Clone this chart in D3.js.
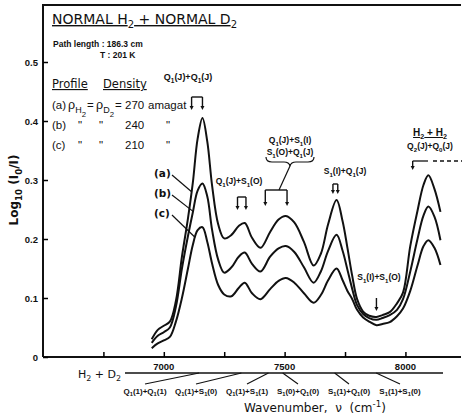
<!DOCTYPE html>
<html>
<head>
<meta charset="utf-8">
<script src="https://cdn.jsdelivr.net/npm/d3@7"></script>
<style>
body { margin: 0; background: #fff; }
svg text { font-family: "DejaVu Sans", sans-serif; fill: #111; white-space: pre; }
.small { font-family: "Liberation Sans", Arial, sans-serif; font-weight: bold; }
.lib { font-family: "Liberation Sans", Arial, sans-serif; }
</style>
</head>
<body>
<div id="chart"></div>
<script>
// sampled wavenumbers, cm^-1
var wavenumber = [6950, 6975, 7000, 7025, 7050, 7075, 7100, 7120, 7140, 7160, 7180, 7200, 7225, 7250,
    7280, 7310, 7335, 7365, 7400, 7440, 7475, 7505, 7540, 7580, 7620, 7650, 7680, 7715, 7740, 7760,
    7780, 7800, 7825, 7850, 7880, 7905, 7935, 7965, 7990, 8020, 8050, 8075, 8095, 8120, 8145];

// log10(I0/I) for the three densities
var profileA = [.030, .046, .053, .060, .095, .170, .235, .295, .370, .405, .365, .290, .225, .201,
    .207, .222, .227, .202, .185, .212, .233, .239, .228, .195, .155, .175, .225, .266, .230, .185,
    .137, .098, .077, .070, .068, .071, .076, .091, .109, .188, .248, .292, .308, .285, .246];
var profileB = [.024, .036, .042, .050, .085, .150, .205, .245, .282, .294, .272, .215, .165, .143,
    .152, .170, .177, .158, .145, .170, .184, .188, .178, .152, .126, .145, .180, .207, .180, .148,
    .115, .088, .073, .066, .063, .066, .071, .080, .098, .145, .200, .240, .255, .238, .198];
var profileC = [.015, .023, .028, .034, .060, .100, .150, .190, .215, .220, .195, .158, .122, .106,
    .103, .117, .126, .108, .098, .115, .129, .134, .126, .108, .092, .105, .130, .150, .130, .112,
    .098, .080, .067, .060, .054, .056, .059, .069, .082, .112, .155, .188, .198, .185, .156];

var profileNames = ["(a)", "(b)", "(c)"];
var densities = ["270", "240", "210"];

var xTicks = [6750, 7000, 7250, 7500, 7750, 8000];
var xTickLabels = ["", "7000", "", "7500", "", "8000"];
var yTicks = [0, 0.1, 0.2, 0.3, 0.4, 0.5];
var yTickLabels = ["0", "0.1", "0.2", "0.3", "0.4", "0.5"];

// H2 + D2 double transitions and where they fall
var pairNames = ["Q_1(1)+Q_1(1)", "Q_1(1)+S_1(0)", "Q_1(1)+S_1(1)", "S_1(0)+Q_1(0)", "S_1(1)+Q_1(0)", "S_1(1)+S_1(0)"];
var pairWavenumbers = [7146, 7321, 7433, 7492, 7707, 7879];

var W = 463, H = 415;
var svg = d3.select('#chart').append('svg').attr('width', W).attr('height', H);

var x = d3.scaleLinear().domain([6500, 8230]).range([43, 461]);
var y = d3.scaleLinear().domain([0, 0.5]).range([357, 62]);

// text with _sub, __subsub and ^sup pieces
function rich(t, str) {
    var size = +t.attr('font-size');
    var re = /(_{1,2}|\^)(\{[^}]*\}|[^{])|([^_^]+)/g, m, shift = 0;
    while ((m = re.exec(str)) !== null) {
        var span = t.append('tspan'), target = 0, txt = m[3];
        if (!m[3]) {
            txt = m[2].replace(/[{}]/g, '');
            if (m[1] === '_') { target = size * 0.3; span.attr('font-size', size * 0.72); }
            else if (m[1] === '__') { target = size * 0.6; span.attr('font-size', size * 0.62); }
            else { target = -size * 0.45; span.attr('font-size', size * 0.72); }
        } else if (t.classed('ul')) {
            span.style('text-decoration', 'underline');
        }
        span.attr('dy', target - shift).text(txt);
        shift = target;
    }
    return t;
}

function label(xp, yp, str, size, opts) {
    opts = opts || {};
    var t = svg.append('text').attr('x', xp).attr('y', yp).attr('font-size', size)
        .attr('text-anchor', opts.anchor || 'start')
        .classed('small', !!opts.small).classed('lib', !!opts.lib).classed('ul', !!opts.ul);
    if (opts.weight) t.attr('font-weight', opts.weight);
    return rich(t, str);
}

function arrowDown(xp, y1, y2) {
    svg.append('line').attr('x1', xp).attr('x2', xp).attr('y1', y1).attr('y2', y2 - 3)
        .attr('stroke', '#111').attr('stroke-width', 1.4);
    svg.append('path').attr('d', 'M' + (xp - 2) + ',' + (y2 - 4) + 'L' + (xp + 2) + ',' + (y2 - 4) + 'L' + xp + ',' + y2 + 'Z')
        .attr('fill', '#111');
}

// two arrows joined by a bar
function bracket(w1, w2, yTop, yTip) {
    svg.append('path').attr('d', 'M' + x(w1) + ',' + yTop + 'L' + x(w2) + ',' + yTop)
        .attr('stroke', '#111').attr('stroke-width', 1.4).attr('fill', 'none');
    arrowDown(x(w1), yTop, yTip);
    arrowDown(x(w2), yTop, yTip);
}

function valueAt(series, wn) {
    var i = d3.bisectLeft(wavenumber, wn);
    var t = (wn - wavenumber[i - 1]) / (wavenumber[i] - wavenumber[i - 1]);
    return series[i - 1] + t * (series[i] - series[i - 1]);
}

// frame
svg.append('path').attr('d', 'M43,357V5H461').attr('fill', 'none').attr('stroke', '#111').attr('stroke-width', 2);
svg.append('line').attr('x1', 43).attr('x2', 461).attr('y1', 357).attr('y2', 357)
    .attr('stroke', '#111').attr('stroke-width', 2);

// inward ticks
var yAxis = d3.axisRight(y).tickValues(yTicks).tickSize(5).tickFormat('');
svg.append('g').attr('transform', 'translate(43,0)').call(yAxis)
    .call(function (g) { g.select('.domain').remove(); g.selectAll('line').attr('stroke-width', 1.5); });
var xAxis = d3.axisTop(x).tickValues(xTicks).tickSize(5).tickFormat('');
svg.append('g').attr('transform', 'translate(0,357)').call(xAxis)
    .call(function (g) { g.select('.domain').remove(); g.selectAll('line').attr('stroke-width', 1.5); });

yTicks.forEach(function (v, i) {
    label(38, y(v) + 3.5, yTickLabels[i], 9.5, {anchor: 'end', small: true});
});
xTicks.forEach(function (v, i) {
    if (xTickLabels[i]) label(x(v), 370, xTickLabels[i], 9.5, {anchor: 'middle', small: true});
});

// profiles
var line = d3.line().x(function (d) { return x(d[0]); }).y(function (d) { return y(d[1]); })
    .curve(d3.curveCatmullRom.alpha(0.5));
[profileA, profileB, profileC].forEach(function (s) {
    svg.append('path').datum(d3.zip(wavenumber, s)).attr('d', line)
        .attr('fill', 'none').attr('stroke', '#111').attr('stroke-width', 2);
});

// curve keys with leaders
var leaderWn = [7115, 7121, 7130];
[profileA, profileB, profileC].forEach(function (s, i) {
    var ly = 177 + i * 20;
    label(154, ly, profileNames[i], 10.5, {weight: 'bold'});
    svg.append('line').attr('x1', 172).attr('y1', ly - 2)
        .attr('x2', x(leaderWn[i])).attr('y2', y(valueAt(s, leaderWn[i])))
        .attr('stroke', '#111').attr('stroke-width', 1.2);
});

// header block
label(52, 24, 'NORMAL H_2 + NORMAL D_2', 14, {ul: true});
label(53, 47, 'Path length : 186.3 cm', 8.5, {small: true});
label(100, 58, 'T : 201 K', 8.5, {small: true});
label(52, 88, 'Profile', 11.5, {ul: true});
label(103, 88, 'Density', 11.5, {ul: true});

var rowSize = 11.5;
label(52, 109, profileNames[0], rowSize, {lib: true});
label(68, 109, 'ρ_{H}__2', 12.5, {lib: true});
label(87, 109, '=', rowSize, {lib: true});
label(96, 109, 'ρ_{D}__2', 12.5, {lib: true});
label(115, 109, '=', rowSize, {lib: true});
label(125, 109, densities[0], rowSize, {lib: true});
label(148, 109, 'amagat', rowSize, {lib: true});
[1, 2].forEach(function (i) {
    var by = 109 + i * 20;
    label(52, by, profileNames[i], rowSize, {lib: true});
    label(80, by, '"', rowSize, {anchor: 'middle', lib: true});
    label(101, by, '"', rowSize, {anchor: 'middle', lib: true});
    label(125, by, densities[i], rowSize, {lib: true});
    label(168, by, '"', rowSize, {anchor: 'middle', lib: true});
});

// band assignments
label(188, 80, 'Q_1(J)+Q_1(J)', 9, {anchor: 'middle', small: true});
bracket(7115, 7160, 97, 110);

label(239, 184, 'Q_1(J)+S_1(O)', 8.5, {anchor: 'middle', small: true});
bracket(7305, 7340, 197, 210);

label(290, 143, 'Q_1(J)+S_1(I)', 8.5, {anchor: 'middle', small: true});
label(290, 155, 'S_1(O)+Q_1(J)', 8.5, {anchor: 'middle', small: true});
svg.append('path').attr('d', 'M266,157Q266,162 272,162L284,162Q289,162 290,166Q291,162 296,162L308,162Q314,162 314,157')
    .attr('fill', 'none').attr('stroke', '#111').attr('stroke-width', 1.2);
svg.append('line').attr('x1', 290).attr('y1', 166).attr('x2', 279).attr('y2', 190)
    .attr('stroke', '#111').attr('stroke-width', 1.2);
bracket(7420, 7510, 190, 206);

label(345, 174, 'S_1(I)+Q_1(J)', 8.5, {anchor: 'middle', small: true});
bracket(7700, 7720, 184, 194);

label(430, 136, 'H_2 + H_2', 10, {anchor: 'middle', small: true, ul: true});
label(430, 149, 'Q_2(J)+Q_0(J)', 8.5, {anchor: 'middle', small: true});
svg.append('line').attr('x1', x(8030)).attr('x2', 428).attr('y1', 161).attr('y2', 161)
    .attr('stroke', '#111').attr('stroke-width', 1.3);
svg.append('line').attr('x1', 433).attr('x2', 462).attr('y1', 161).attr('y2', 161)
    .attr('stroke', '#111').attr('stroke-width', 1.3).attr('stroke-dasharray', '4,3');
arrowDown(x(8030), 161, 170);

label(379, 280, 'S_1(I)+S_1(O)', 8.5, {anchor: 'middle', small: true});
arrowDown(x(7880), 298, 311);

// H2 + D2 transition scale under the axis
label(121, 378, 'H_2 + D_2', 11, {anchor: 'end'});
svg.append('line').attr('x1', 125).attr('x2', 443).attr('y1', 373).attr('y2', 373)
    .attr('stroke', '#111').attr('stroke-width', 1.5);
var pairCenters = d3.range(pairNames.length).map(function (i) { return 145 + i * 51; });
pairNames.forEach(function (n, i) {
    svg.append('line').attr('x1', x(pairWavenumbers[i])).attr('y1', 373)
        .attr('x2', pairCenters[i]).attr('y2', 384)
        .attr('stroke', '#111').attr('stroke-width', 1.1);
    label(pairCenters[i], 394, n, 8, {anchor: 'middle', small: true});
});

label(244, 412, 'Wavenumber,  ν  (cm^{-1})', 12);

// y title
var yt = svg.append('text').attr('transform', 'translate(18,190) rotate(-90)')
    .attr('font-size', 12).attr('font-weight', 'bold').attr('text-anchor', 'middle');
rich(yt, 'Log_{10} (I_0/I)');
</script>
</body>
</html>
